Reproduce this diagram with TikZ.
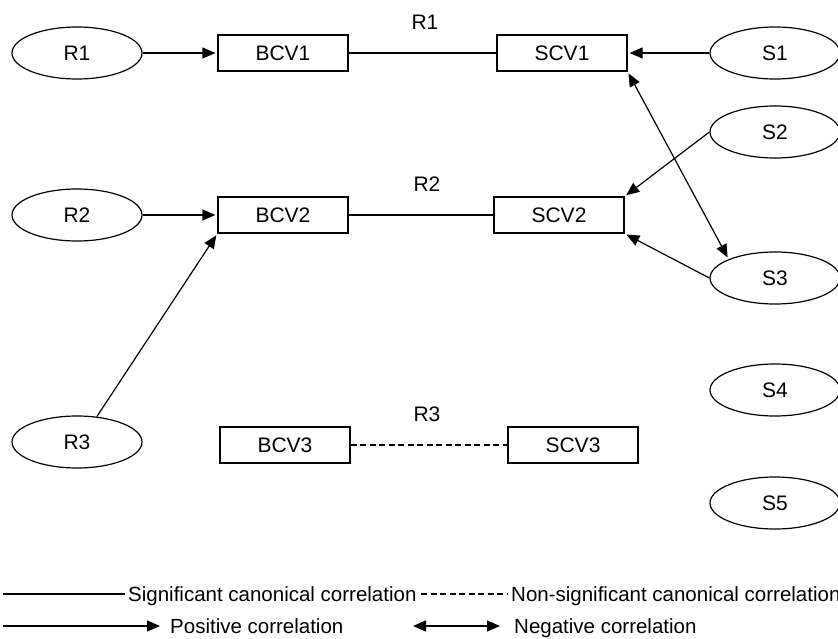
\documentclass[tikz,border=0pt]{standalone}
\usepackage{fontspec}
\setmainfont{Liberation Sans}
\usetikzlibrary{arrows.meta}
\usetikzlibrary{shapes.geometric}

\begin{document}
\begin{tikzpicture}[x=1pt, y=-1pt,
  var/.style={ellipse, draw, line width=1.2pt, minimum width=130pt, minimum height=52pt, inner sep=0pt, font=\fontsize{21}{25}\selectfont},
  cv/.style={rectangle, draw, line width=1.2pt, minimum width=130pt, minimum height=36pt, inner sep=0pt, font=\fontsize{21}{25}\selectfont},
  lbl/.style={font=\fontsize{21}{25}\selectfont},
  key/.style={anchor=base west, inner sep=0pt, font=\fontsize{20.5}{24}\selectfont},
  conn/.style={line width=1.2pt},
  nonsig/.style={line width=1.2pt, dash pattern=on 6pt off 3.5pt},
  posarrow/.style={line width=1.2pt, shorten >=2pt, -{Triangle[length=13pt, width=11pt]}},
  negarrow/.style={line width=1.2pt, shorten >=2pt, shorten <=2pt, {Triangle[length=13pt, width=11pt]}-{Triangle[length=13pt, width=11pt]}}
]
\useasboundingbox (0,0) rectangle (838,639);
\clip (0,0) rectangle (838,639);

% Canonical variates
\node[cv] (bcv1) at (283,53) {BCV1};
\node[cv] (scv1) at (562,53) {SCV1};
\node[cv] (bcv2) at (283,215) {BCV2};
\node[cv] (scv2) at (559,215) {SCV2};
\node[cv] (bcv3) at (285,445) {BCV3};
\node[cv] (scv3) at (573,445) {SCV3};

% R variables
\node[var] (r1) at (77,53) {R1};
\node[var] (r2) at (77,215) {R2};
\node[var] (r3) at (77,442) {R3};

% S variables
\node[var] (s1) at (775,53) {S1};
\node[var] (s2) at (775,132) {S2};
\node[var] (s3) at (775,278) {S3};
\node[var] (s4) at (775,390) {S4};
\node[var] (s5) at (775,503) {S5};

% Correlation labels
\node[lbl] (r1_l) at (425,22) {R1};
\node[lbl] (r2_l) at (427,184) {R2};
\node[lbl] (r3_l) at (427,414) {R3};

\draw[conn] (bcv1) -- (scv1);
\draw[conn] (bcv2) -- (scv2);
\draw[nonsig] (bcv3) -- (scv3);

\draw[posarrow] (r1) -- (bcv1);
\draw[posarrow] (r2) -- (bcv2);
\draw[posarrow] (r3.52) -- (bcv2.south west);
\draw[posarrow] (s1) -- (scv1);
\draw[negarrow] (scv1.south east) -- (s3.north west);
\draw[posarrow] (s2.west) -- (scv2.north east);
\draw[posarrow] (s3.west) -- (scv2.south east);

% Legend
\coordinate (k1a) at (3,594);
\coordinate (k1b) at (125,594);
\draw[conn] (k1a) -- (k1b);
\node[key] (sig_k) at (128,601) {Significant canonical correlation};

\coordinate (k2a) at (421,594);
\coordinate (k2b) at (507,594);
\draw[nonsig] (k2a) -- (k2b);
\node[key] (nonsig_k) at (511,601) {Non-significant canonical correlation};

\coordinate (k3a) at (3,626);
\coordinate (k3b) at (162,626);
\draw[posarrow] (k3a) -- (k3b);
\node[key] (pos_k) at (170,633) {Positive correlation};

\coordinate (k4a) at (411,626);
\coordinate (k4b) at (502,626);
\draw[negarrow] (k4a) -- (k4b);
\node[key] (neg_k) at (514,633) {Negative correlation};

\end{tikzpicture}
\end{document}
